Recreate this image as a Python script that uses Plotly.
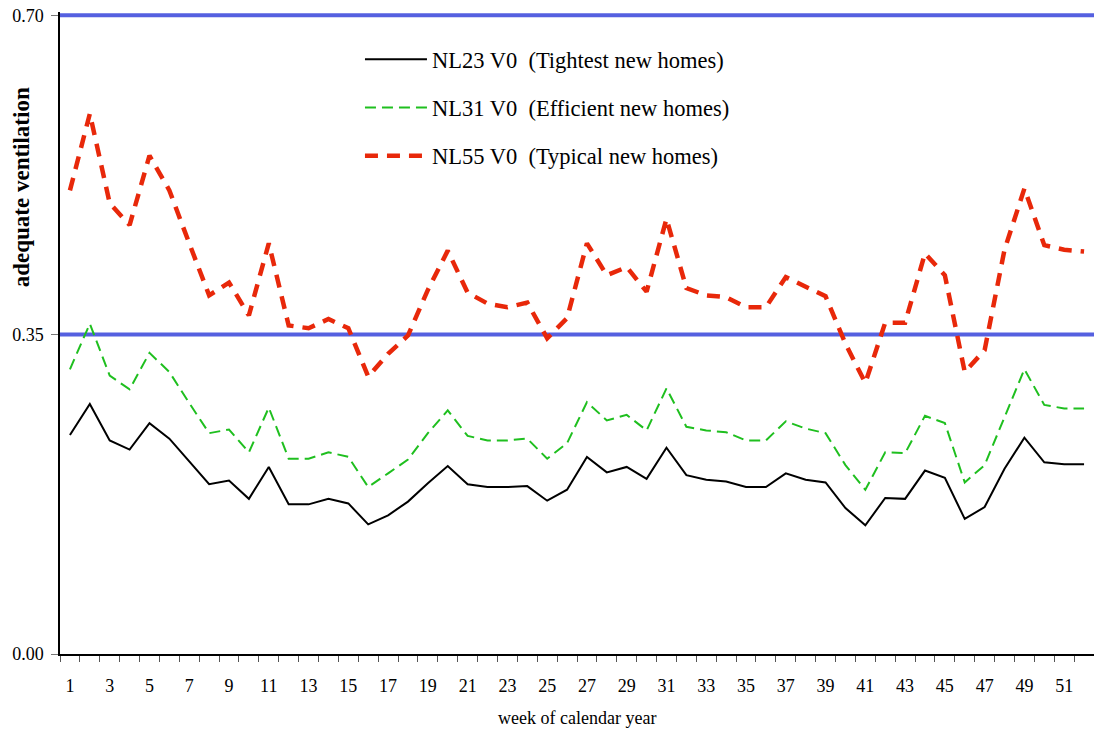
import plotly.graph_objects as go

# week of calendar year
weeks = list(range(1, 53))
week_labels = [str(w) for w in range(1, 53, 2)]
week_label_pos = list(range(1, 53, 2))

nl23 = [0.240, 0.274, 0.234, 0.224, 0.253, 0.236, 0.211, 0.186, 0.190, 0.170,
        0.205, 0.164, 0.164, 0.170, 0.165, 0.142, 0.152, 0.167, 0.187, 0.206,
        0.186, 0.183, 0.183, 0.184, 0.168, 0.180, 0.216, 0.199, 0.205, 0.192,
        0.226, 0.196, 0.191, 0.189, 0.183, 0.183, 0.198, 0.191, 0.188, 0.160,
        0.141, 0.171, 0.170, 0.201, 0.193, 0.148, 0.161, 0.203, 0.237, 0.210,
        0.208, 0.208]

nl31 = [0.312, 0.362, 0.305, 0.290, 0.330, 0.309, 0.275, 0.242, 0.246, 0.221,
        0.270, 0.214, 0.214, 0.221, 0.216, 0.183, 0.198, 0.213, 0.242, 0.267,
        0.239, 0.234, 0.234, 0.236, 0.214, 0.231, 0.276, 0.256, 0.262, 0.245,
        0.291, 0.249, 0.245, 0.243, 0.234, 0.234, 0.255, 0.247, 0.242, 0.207,
        0.180, 0.221, 0.220, 0.261, 0.253, 0.188, 0.207, 0.260, 0.312, 0.273,
        0.269, 0.269]

nl55 = [0.508, 0.592, 0.494, 0.470, 0.546, 0.508, 0.450, 0.393, 0.407, 0.371,
        0.450, 0.360, 0.357, 0.367, 0.357, 0.304, 0.329, 0.349, 0.399, 0.442,
        0.396, 0.384, 0.380, 0.385, 0.346, 0.368, 0.450, 0.415, 0.424, 0.397,
        0.477, 0.401, 0.393, 0.391, 0.380, 0.380, 0.413, 0.402, 0.392, 0.340,
        0.297, 0.363, 0.363, 0.439, 0.415, 0.309, 0.333, 0.443, 0.510, 0.448,
        0.443, 0.441]

thresholds = [0.35, 0.70]
y_ticks = [0.0, 0.35, 0.70]
y_ticktext = ["0.00", "0.35", "0.70"]

SERIF = "Liberation Serif, Times New Roman, serif"

fig = go.Figure()

for t in thresholds:
    fig.add_hline(y=t, line_color="#5560E0", line_width=4, layer="below")

fig.add_trace(go.Scatter(
    x=weeks, y=nl23, mode="lines", name="NL23 V0\u00a0\u00a0(Tightest new homes)",
    line=dict(color="black", width=2), legendgroup="a",
))
fig.add_trace(go.Scatter(
    x=weeks, y=nl31, mode="lines", name="NL31 V0\u00a0\u00a0(Efficient new homes)",
    line=dict(color="#1FBF1F", width=2, dash="11px,6px"), legendgroup="b",
))
fig.add_trace(go.Scatter(
    x=weeks, y=nl55, mode="lines", name="NL55 V0\u00a0\u00a0(Typical new homes)",
    line=dict(color="#E8280A", width=4.5, dash="13px,9px"), legendgroup="c",
))

fig.update_xaxes(
    range=[0.5, 52.5], automargin=False,
    tickmode="array", tickvals=week_label_pos, ticktext=week_labels,
    ticks="", ticklabelstandoff=15,
    minor=dict(tickmode="linear", tick0=0.5, dtick=1, ticks="outside",
               ticklen=6, tickcolor="#555", tickwidth=1),
    showline=True, linecolor="black", linewidth=1.5,
    showgrid=False, zeroline=False,
    tickfont=dict(family=SERIF, size=18, color="black"),
)
fig.update_yaxes(
    range=[0, 0.7035], automargin=False,
    tickmode="array", tickvals=y_ticks, ticktext=y_ticktext,
    ticks="outside", ticklen=7, tickcolor="#777", ticklabelstandoff=4,
    ticklabeloverflow="allow",
    showline=True, linecolor="black", linewidth=1.5,
    showgrid=False, zeroline=False,
    tickfont=dict(family=SERIF, size=18, color="black"),
)

fig.add_annotation(
    text="<b>adequate ventilation</b>", textangle=-90,
    xref="paper", yref="paper", x=0, y=0.727, xshift=-39,
    xanchor="center", yanchor="middle", showarrow=False,
    font=dict(family=SERIF, size=23, color="black"),
)
fig.add_annotation(
    text="week of calendar year",
    xref="paper", yref="paper", x=0.5, y=0, yshift=-64,
    xanchor="center", yanchor="middle", showarrow=False,
    font=dict(family=SERIF, size=18, color="black"),
)

fig.update_layout(
    width=1094, height=729,
    margin=dict(l=60, r=0, t=12, b=75),
    plot_bgcolor="white", paper_bgcolor="white",
    showlegend=True,
    legend=dict(
        x=0.2901, y=0.9595, xanchor="left", yanchor="top",
        bgcolor="rgba(0,0,0,0)", borderwidth=0,
        traceorder="grouped", tracegroupgap=16, itemwidth=62,
        font=dict(family=SERIF, size=22.5, color="black"),
    ),
)

# drop the default 8px page margin so the figure sits at the window's corner
fig.write_html("out.html", config={"displayModeBar": False},
               post_script="document.body.style.margin = '0px';")
